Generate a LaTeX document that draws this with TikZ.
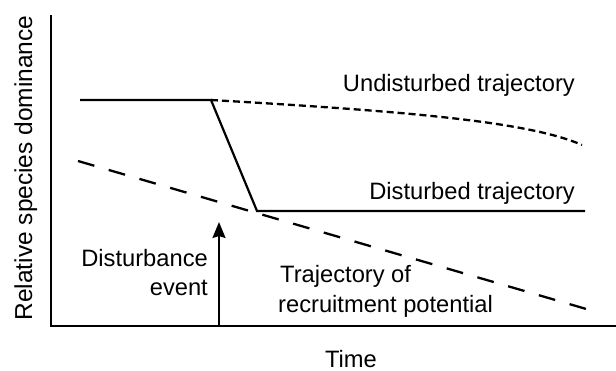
\documentclass[tikz,border=0pt]{standalone}
\usepackage{fontspec}
\setmainfont{Liberation Sans}
\usetikzlibrary{arrows.meta}
\begin{document}
\begin{tikzpicture}[x=1pt,y=-1pt,
  axis/.style={line width=2.7pt},
  traj/.style={line width=2.2pt},
  undist/.style={line width=2.3pt, dash pattern=on 7pt off 4pt},
  recruit/.style={line width=2.3pt, dash pattern=on 17pt off 15pt},
  lbl/.style={font=\fontsize{23.7}{26}\selectfont, inner sep=0pt}]
\useasboundingbox (0,0) rectangle (616,371);
% axes
\coordinate (ytop) at (51,15);
\coordinate (orig) at (51,326);
\coordinate (xend) at (616,326);
\draw[axis] (ytop) -- (orig) -- (xend);
% trajectories
\coordinate (s0) at (80,100);
\coordinate (s1) at (211,100);
\coordinate (s2) at (257,211);
\coordinate (s3) at (585,211);
\coordinate (u1) at (582,145);
\draw[traj, line join=miter] (s0) -- (s1) -- (s2) -- (s3);
\draw[undist] (s1) .. controls (400,111) and (528,121) .. (u1);
\coordinate (r0) at (78,161);
\coordinate (r1) at (600,313);
\draw[recruit] (r0) -- (r1);
% disturbance arrow
\coordinate (a0) at (219,326);
\coordinate (a1) at (219,222);
\draw[line width=2.2pt, -{Stealth[length=16pt,width=13pt,inset=2pt]}] (a0) -- (a1);
% labels
\node[lbl, anchor=base east] (dist) at (208,267) {Disturbance};
\node[lbl, anchor=base east] (evt) at (208,296) {event};
\node[lbl, anchor=base east] (ul) at (575,92) {Undisturbed trajectory};
\node[lbl, anchor=base east] (dl) at (575,200) {Disturbed trajectory};
\node[lbl, anchor=base west] (tr1) at (280,283) {Trajectory of};
\node[lbl, anchor=base west] (tr2) at (278,313) {recruitment potential};
\node[lbl, anchor=base] (time) at (351,367) {Time};
\node[lbl, anchor=base, rotate=90, font=\fontsize{24.5}{26}\selectfont] (yl) at (32,168) {Relative species dominance};
\end{tikzpicture}
\end{document}
